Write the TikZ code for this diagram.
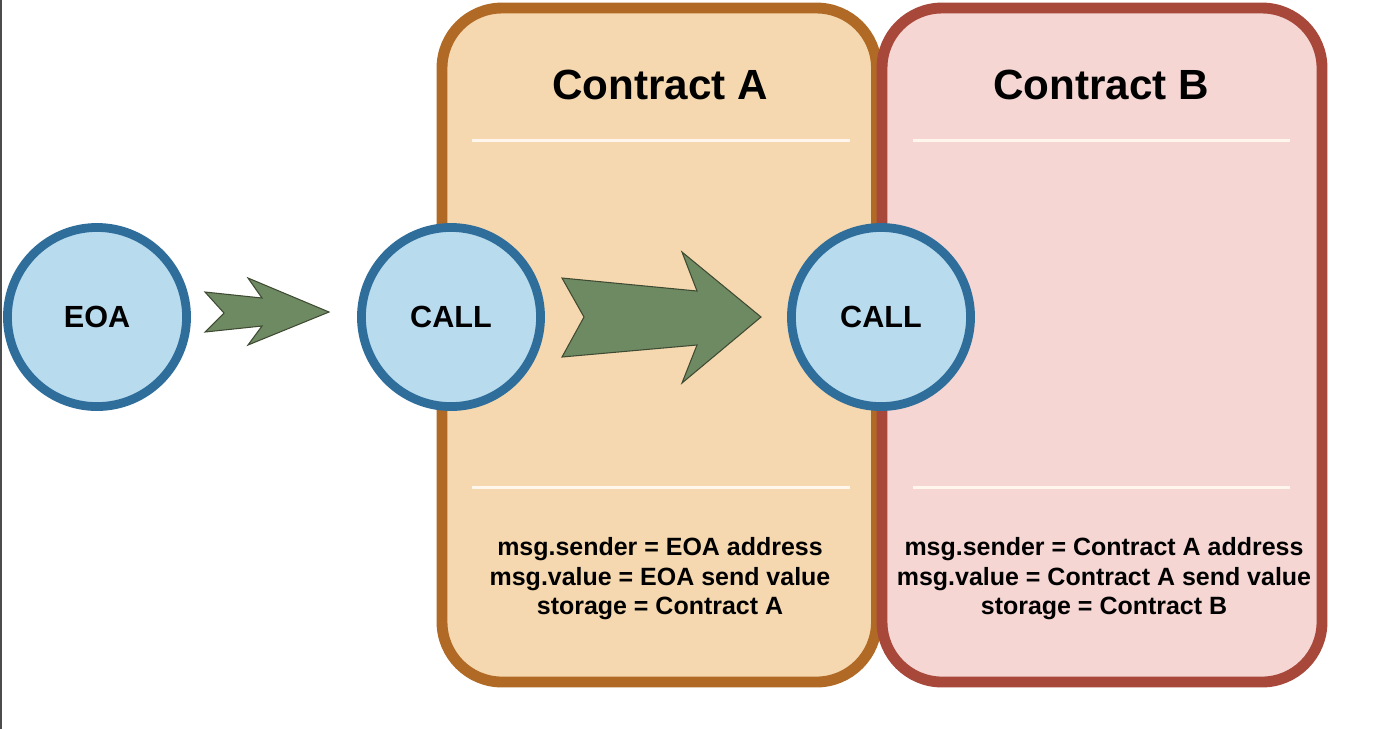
\documentclass[tikz,border=0pt]{standalone}
\usepackage{fontspec}
\setmainfont{Liberation Sans}
\usetikzlibrary{shapes}
\usetikzlibrary{positioning}
\usetikzlibrary{calc}
\definecolor{afill}{HTML}{F5D8AF}
\definecolor{aline}{HTML}{B06A26}
\definecolor{bfill}{HTML}{F5D6D3}
\definecolor{bline}{HTML}{A7483B}
\definecolor{cfill}{HTML}{B8DBEE}
\definecolor{cline}{HTML}{2F6E9B}
\definecolor{arrowg}{HTML}{6E8A63}
\definecolor{arrowd}{HTML}{3F4A32}
\definecolor{sepline}{HTML}{FFF7EE}
\tikzstyle{ctr}      = [line width=3.1pt, rounded corners=0.6cm]
\tikzstyle{corange}  = [ctr, fill=afill, draw=aline]
\tikzstyle{cred}     = [ctr, fill=bfill, draw=bline]
\tikzstyle{actor}    = [circle, inner sep=0pt, minimum size=1.79cm, fill=cfill, draw=cline, line width=2.5pt, font=\fontsize{8.7}{10}\selectfont\bfseries]
\tikzstyle{sep}      = [draw=sepline, line width=0.85pt]
\tikzstyle{title}    = [font=\fontsize{12}{14}\selectfont\bfseries]
\tikzstyle{info}     = [align=center, font=\fontsize{7.1}{8.4}\selectfont\bfseries]
\tikzstyle{bigarrow} = [fill=arrowg, draw=arrowd, line width=0.3pt, line join=miter]

\begin{document}
\begin{tikzpicture}[x=0.01cm, y=-0.01cm]
     \useasboundingbox (0,0) rectangle (1400,729);
     \fill[white] (0,0) rectangle (1400,729);
     \draw[black!70, line width=0.4pt] (1,0) -- (1,729);
     % the two contracts
     \filldraw[corange] (442,8) rectangle (876.5,682);
     \filldraw[cred]    (882,8) rectangle (1322,682);
     \draw[sep] (472,140) -- (850,140);
     \draw[sep] (472,487) -- (850,487);
     \draw[sep] (913,140) -- (1290,140);
     \draw[sep] (913,487) -- (1290,487);
     \draw
       node[title] (titleA) at (660,85)  {Contract A}
       node[title] (titleB) at (1101,85) {Contract B}
       node[info]  (infoA)  at (660,579)  {msg.sender = EOA address\\msg.value = EOA send value\\storage = Contract A}
       node[info]  (infoB)  at (1104,579) {msg.sender = Contract A address\\msg.value = Contract A send value\\storage = Contract B};
     % callers
     \draw
       node[actor] (eoa)   at (97,317)  {EOA}
       node[actor] (callA) at (451,317) {CALL}
       node[actor] (callB) at (881,317) {CALL};
     % block arrows
     \filldraw[bigarrow] (205,292) -- (262,298) -- (248,278) -- (329,312)
       -- (248,345) -- (262,326) -- (205,332) -- (224,313) -- cycle;
     \filldraw[bigarrow] (562,278) -- (697,291) -- (682,252) -- (761,317)
       -- (682,383) -- (697,345) -- (562,357) -- (584,317) -- cycle;
\end{tikzpicture}
\end{document}
